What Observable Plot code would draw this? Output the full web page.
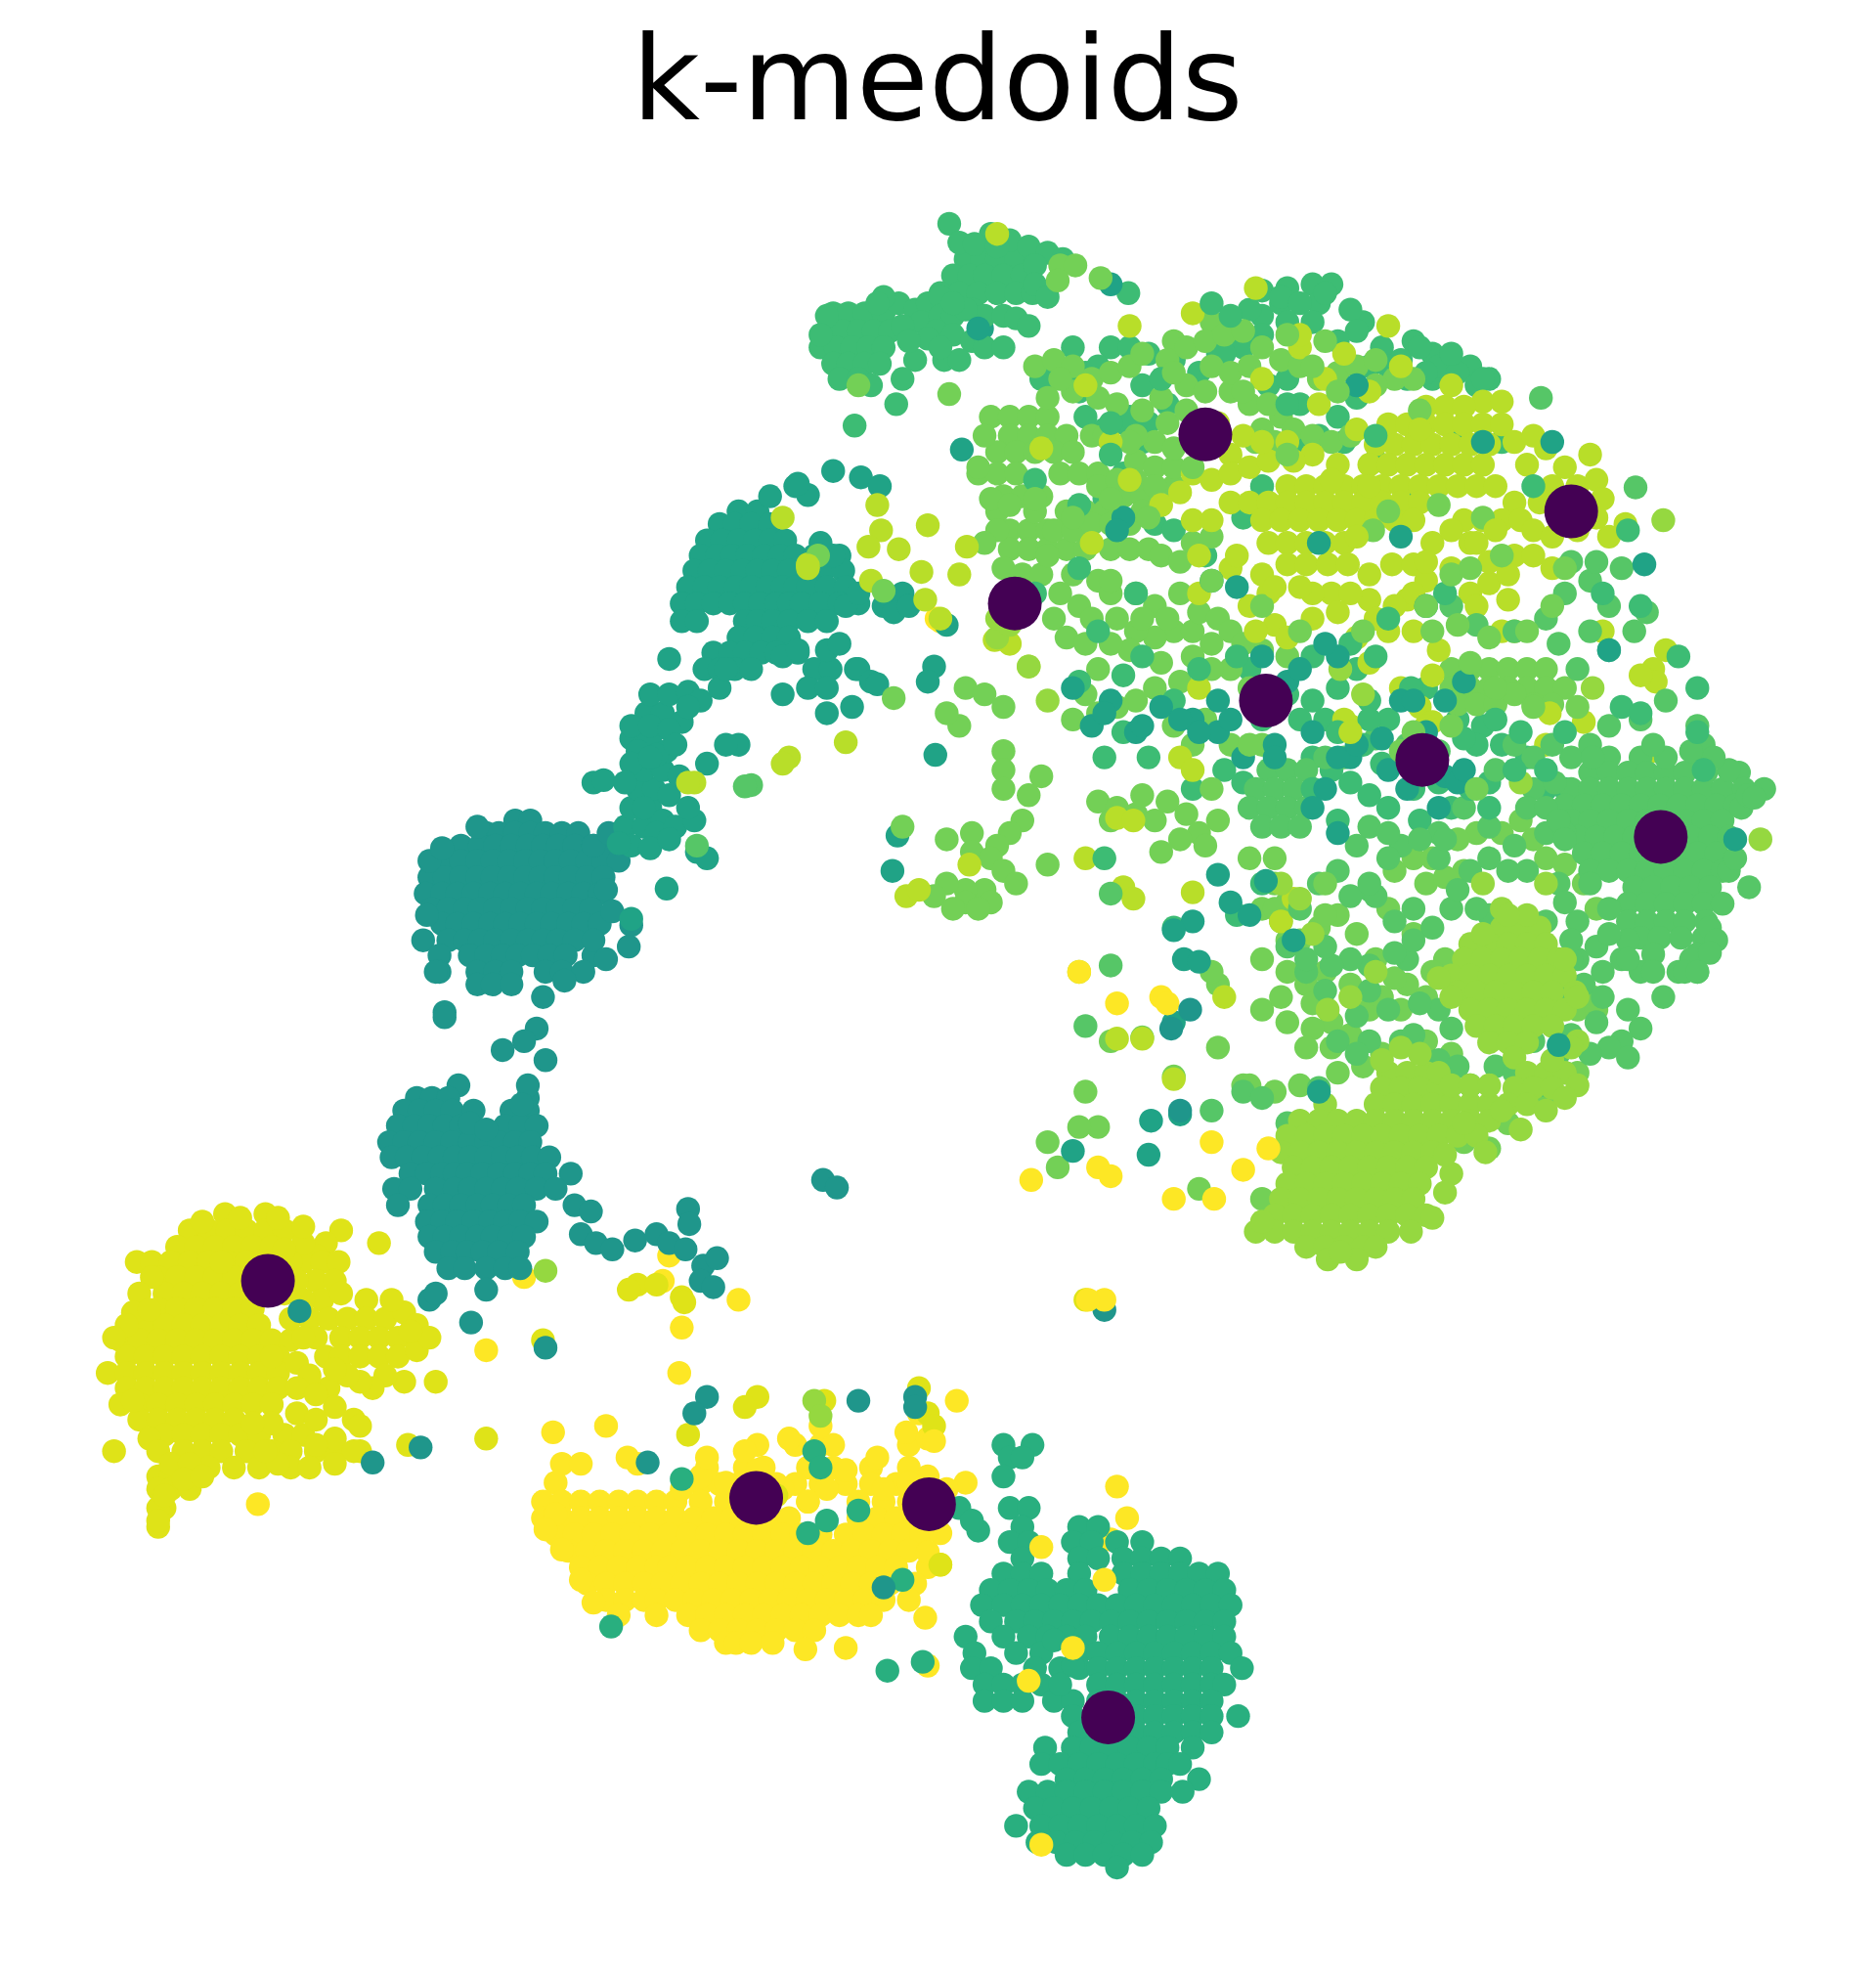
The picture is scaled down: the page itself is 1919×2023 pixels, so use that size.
<!DOCTYPE html>
<html><head><meta charset="utf-8">
<script src="https://cdn.jsdelivr.net/npm/d3@7"></script>
<script src="https://cdn.jsdelivr.net/npm/@observablehq/plot@0.6"></script>
<style>html,body{margin:0;padding:0;background:#fff;overflow:hidden}
#t{height:190px;text-align:center;font:120px/161px "DejaVu Sans";color:#000;width:1919px;padding-right:1px;box-sizing:border-box}</style>
</head><body><div id="t">k-medoids</div><div id="c"></div>
<script>
const seriesNames=["c1","c2","c3","c4","c5","c6","c7","c8","c9","c10"];
const seriesColors=["#1f968b","#20a386","#29af7f","#3dbc74","#56c667","#73d056","#95d840","#b8de29","#dfe318","#fde725"];
const medoidX=[212,599,736,878,804,955,1003,1127,1245,1316];
const medoidY=[1015,1187,1192,1361,478,344,555,602,405,663];
// rows: [y, x, x, ...]; lists: x,y,x,y,...
const c1Rows=[[650,408,420],[660,385,395,408,420,432,445,458],[670,365,380,392,405,418,430,442,455,470,482],[682,352,365,378,390,403,416,428,440,452,465,478,490],[695,340,352,365,378,390,403,416,428,440,452,465,478],[708,337,350,362,375,388,400,412,425,437,450,462,475],[720,342,355,368,380,392,405,418,430,442,455,468],[732,350,362,375,388,400,412,425,437,450,462,475],[745,335,355,368,380,392,405,418,430,442,455],[757,348,372,385,398,410,422,435,448,470],[770,348,378,392,405,432,445,462],[780,378,390,405],
[860,363],[870,330,342,355,418],[880,320,332,345,358,375,405,418],[892,315,328,340,352,365,400,412,425],[905,308,320,332,345,358,372,385,395,408,420],[917,310,322,335,348,360,372,385,398,410,422,435],[930,325,338,350,360,370,382,395,408,420,432,452],[942,312,325,345,360,372,385,398,410,425,440],[955,315,340,352,365,378,390,403,415],[968,338,350,362,375,388,400,412,425],[980,340,352,365,378,390,403,415],[992,345,358,370,382,395,410],[1005,355,368,385,400,412],[1022,385]];
const c1List=[352,802,352,806,430,790,447,777,425,815,415,825,398,832,432,840,418,860,413,875,500,733,498,750,455,955,468,960,460,978,472,985,485,990,503,983,520,978,530,985,545,958,546,970,543,990,557,1003,568,997,555,1015,565,1020,652,935,663,941,340,1030,345,1025,237,1039,373,1048,432,1068,295,1159,333,1147,513,1159,560,1107,550,1120,680,1110,725,1107,725,1115,875,1038,470,670,482,660,372,890,385,895,345,770,338,725,480,705,485,722,340,682,350,672,378,655,470,745,480,760];
const c2Rows=[[405,585,600],[415,570,582,595,610],[428,560,572,585,598,610,622],[440,555,568,580,592,605,618,630,645,665],[452,550,562,575,588,600,612,625,640,652,668],[465,545,558,570,583,595,608,620,630,640,655,670],[478,540,552,565,578,590,602,615,625,635,650,665,680],[492,540,552,590,600,612,625,640,655],[505,585,598,612,625],[517,565,578,590,603,615,632],[530,558,570,582,595,645,658,678]];
const c2List=[495,655,510,655,500,640,515,640,525,650,505,625,518,625,530,630,510,610,525,610,538,615,500,585,515,585,528,595,512,565,525,565,540,572,515,550,530,550,545,548,555,555,570,545,575,530,470,620,478,618,552,675,560,680,528,704,500,728,530,522,620,550,655,515,665,510,680,530,690,540,655,565,640,545,655,545,675,560,695,542,585,590,575,590,560,605,610,393,630,385,640,392,660,373,682,378,697,385,632,383,715,470,700,480,708,485,740,528,735,540,750,495,720,480,762,356,778,260,741,598,707,690,711,662,660,440,650,430,500,575,515,575,530,578,545,560,505,595,520,598,535,590,500,605,515,600,495,620,510,640,520,660,500,670,515,672,490,668,535,655,550,650,530,665,545,640,620,520,632,515,670,480,680,470];
const c3Rows=[[1145,795,818],[1155,800,810],[1170,795],[1195,800,815],[1210,810,855,870],[1222,800,815,850,865,885,905],[1235,810,855,870,890,905,920,935],[1247,795,810,825,855,890,905,920,935,950,965],[1260,785,800,815,830,845,860,895,910,925,940,955,970],[1272,778,795,810,825,840,855,870,885,900,915,930,945,960,975],[1285,785,805,820,835,850,865,880,895,910,925,940,955,970],[1297,765,795,815,830,845,860,880,895,910,925,940,955,970],[1310,772,805,825,855,870,885,900,915,930,945,960,975],[1322,770,785,820,840,855,870,885,900,915,930,945,960,984],[1335,780,795,810,825,870,885,900,915,930,945,960,970],[1348,780,795,810,835,850,870,885,900,915,930,945,960],[1360,850,870,885,900,915,930,945,960,981],[1373,855,870,885,900,915,930,945,960],[1385,828,850,865,880,895,910,925,945],[1398,825,840,855,870,885,900,915,925,935],[1410,845,860,875,890,905,920,950],[1420,815,830,845,860,875,890,905,920,937],[1433,820,835,850,865,880,895,910],[1447,805,825,840,855,870,885,900,915],[1460,822,837,852,867,882,897,912],[1470,845,860,875,890,905],[1480,885]];
const c3List=[484,1289,703,1324,731,1317,775,1213,760,1195,770,1205,540,1172,645,1150,650,1163,680,1197,640,1215,655,1205,715,1252,850,1320,840,1335,835,1300];
const c4Rows=[[248,660,672,685,700],[262,655,667,680,692,705],[275,650,662,675,688,700],[288,660,672,685,697],[300,665,680],[205,765,778,790,805],[218,755,768,780,795,810],[232,745,760,775,790,805,818]];
const c4List=[712,240,725,245,735,240,745,235,730,255,745,250,755,250,770,245,780,250,742,262,755,265,770,270,725,285,715,300,710,320,677,337,748,285,760,285,780,275,795,275,752,177,785,185,800,190,815,195,830,200,842,205,820,210,795,250,805,252,815,258,894,232,1020,228,1040,225,1055,225,1000,250,1015,240,1045,240,1080,255,1120,270,1135,280,1150,290,1135,300,880,275,860,295,905,305,925,320,890,335,850,275,835,300,965,280,1005,305,1020,300,1030,320,1075,315,1060,330,990,245,1165,290,1180,300,700,235,760,192,772,193,790,195,820,225,830,235,765,245,755,240,735,268,745,275,715,258,720,270,655,250,695,240,650,265,690,305,
1000,230,1015,235,1030,240,1050,232,1070,245,1075,262,1095,275,1110,285,1125,275,1140,290,1155,295,1150,280,1170,305,1130,295,1100,290,1085,290,1060,270,1040,255,1020,255,1000,265,985,275,970,280,950,295,930,285,910,280,895,275,870,290,855,310,845,300,825,300,860,330,875,340,895,330,910,335,905,350,890,375,875,395,860,415,885,420,915,415,930,420,955,440,985,410,1000,385,1030,355,1045,345,1065,350,1090,365,1115,390,1155,345,1190,350,1175,300,1115,300,990,530,1020,550,1040,555,1060,545,1075,530,1085,555,1100,570,1130,545,1155,570,1175,575,1190,590,1210,600,1225,625,1240,625,1180,620,1150,640,1125,650,1100,640,1085,630,1070,620,1055,610,1040,600,970,610,985,620,945,625,910,600,890,580,875,600,1000,570,1030,570,1050,570,1120,600];
const c4Top=[1215,385,1145,470,1205,580,1185,570,1170,590,1200,610,1240,580,1225,610,1165,625,1140,620,1095,605,1080,590,1060,580,880,335,920,300,1020,320,1090,345,960,240,975,250,880,360,855,400,820,470,855,450,820,380,870,500,900,470,1040,520,1070,510,1090,520,1100,490,1085,570,1118,545,1160,585,1180,640,905,520,855,540,890,535,930,555,950,530,980,520,875,680,930,735,980,725,1000,700,1060,650,1040,625,1120,625,1290,420,1270,470,1275,515,1300,480,1345,545,1330,520,1345,580,1350,610,1285,560,1300,565];
const c5Rows=[[600,1275,1300,1345],[612,1260,1275,1290,1305,1320,1335,1352,1378],[625,1245,1260,1275,1290,1305,1320,1335,1350,1365,1382,1398],[638,1240,1255,1270,1285,1300,1315,1330,1345,1360,1375],[650,1245,1260,1275,1290,1305,1320,1335,1350,1365],[663,1250,1265,1280,1295,1310,1325,1340,1355,1370],[676,1255,1270,1285,1300,1315,1330,1345,1360],[690,1260,1275,1290,1305,1320,1335,1350,1365],[703,1295,1310,1325,1340,1355,1386],[716,1290,1305,1320,1335,1350,1365],[730,1290,1305,1320,1335,1352],[743,1300,1315,1332,1350],[756,1310,1345],[770,1300,1330,1345],
[610,1005,1020,1035],[625,995,1010,1025,1040],[640,990,1005,1020,1035],[655,1000,1015,1030]];
const c5List=[1296,386,1221,315,1270,770,1290,800,1300,815,1285,825,1275,830,1290,838,1318,790,1340,760,1355,735,1250,760,1235,790,1215,825,1235,835,1225,860,1045,862,1085,825,1060,825,1075,835,1110,825,985,865,1000,870,960,880,1020,890,595,622,590,623,552,670,1085,705,1120,720,1150,720,1180,725,1165,690,1210,690,1235,700,1250,730,1265,750,1140,660,1110,670,1060,690,1070,710,1090,710,1045,700,1030,720,1020,750,1035,770,1050,785,1085,765,1115,760,1135,735,1105,755,1160,640,1185,610,1215,625,1235,650,1210,640,1225,660,1140,595,1115,590,1090,585,1065,600,1050,600,1200,590,1245,600,
1085,700,1100,680,1075,670,1085,655,1100,660,1125,665,1140,680,1155,705,1170,720,1105,730,1120,745,1070,760,1055,765,1050,750,1035,760,1085,785,1100,800,1075,805,1120,820,1140,800,1150,815,1125,795,1140,840,1155,845,1165,860,1150,860,1185,845,1200,850,1245,760,1255,780,1270,790,1285,760,1260,700,1275,720,1240,715,1225,730,1245,745,1265,810,1245,820,1260,835,1240,850,1195,690,1180,680,1200,670,1180,655,1145,665,1225,640,1240,660,1215,600,1230,590,1260,590,1275,575,1300,570,1320,555,1345,575,1350,590,1295,500,1275,480,1305,485,1260,460,1245,445,1225,490,1235,510,1260,500,1250,530,1200,500,1170,495,1150,480,1240,470,1265,445,1285,450,1232,620,1235,650,1240,665,1380,640,1370,690,1375,680,1360,745,1335,770,1355,755,1345,770,1290,745,1275,740,1290,760,1310,770,1385,630,1390,632,1370,610,1358,600,1340,595,1320,600,1310,590,1262,600,860,813,880,765,880,708];
const c6Rows=[[330,785,800,815,830],[345,800,815,830,845,865],[358,790,805,820,835,850],[375,775,790,805,840,855,870],[393,795,810,825,890,905],[405,790,845,860,875],[420,800,815,830],[435,800,815,830,845,860,880,895,910],[530,1150,1165,1180,1195,1210,1225],[545,1150,1165,1180,1195,1210,1225,1240],[558,1155,1170,1185,1215,1230]];
const c6List=[900,365,915,350,925,335,940,325,960,290,975,310,990,320,1000,340,1015,330,960,255,930,270,920,440,935,445,945,430,960,425,870,460,850,455,840,470,855,480,835,490,865,490,880,470,900,470,915,480,935,470,930,500,915,505,900,500,945,500,960,510,975,530,990,545,1000,515,1020,520,895,515,880,510,870,530,920,525,935,540,955,570,975,590,1000,590,960,625,965,650,990,680,1010,700,1000,720,1015,730,1030,745,1045,735,1060,725,1075,740,1020,770,1035,780,1040,795,1055,810,1070,820,1085,800,1095,790,1115,780,1130,790,1145,760,1130,700,1100,720,1105,690,1120,680,1135,680,1160,690,1170,660,1155,665,1190,660,1205,650,1215,665,1225,680,870,635,885,640,900,645,915,650,880,650,905,630,925,635,940,645,950,660,955,670,935,665,920,675,795,595,795,610,795,625,825,615,815,630,810,650,800,660,790,670,770,660,770,675,785,680,795,690,805,700,780,705,765,705,750,700,740,710,750,665,765,715,785,715,755,720,775,720,830,685,765,545,780,550,795,560,760,575,750,565,708,553,715,655,752,312,680,305,1050,725,965,830,985,860,930,853,880,825,905,822,860,865,870,893,855,893,830,905,838,925,1000,950,950,942,1020,715,965,780,960,770,1145,695,1240,685,1255,700,1265,720,1262,790,1180,910,
820,290,835,285,850,290,865,300,880,295,895,290,905,280,925,285,940,275,955,270,970,265,985,262,1000,275,1015,285,1030,290,1045,300,1060,295,1075,290,1090,285,1105,300,1120,300,1090,305,850,310,870,315,885,320,905,325,920,315,940,305,955,310,975,295,990,290,1005,320,1025,340,1040,345,1055,350,1070,345,1010,350,995,350,900,345,915,370,930,385,875,345,895,350,840,300,830,315,780,345,775,370,785,395,800,400,820,405,835,420,850,420,865,415,880,415,895,415,905,405,870,385,885,380,900,380,915,385,930,370,930,355,945,350,790,420,780,430,795,450,810,455,825,455,845,505,860,510,885,490,905,490,925,490,950,485,965,490,975,500,985,510,945,520,960,530,915,545,900,555,885,560,870,565,850,570,860,550,930,575,945,590,1000,800,1015,790,1040,815,1055,830,1035,830,1020,810,990,860,1010,865,1030,860,1060,850,1080,845,1095,835,1000,760,1020,745,1010,720,1050,770,1070,780,1110,800,1130,825,1150,835,1135,770,1120,740,1090,760,1105,775,1250,800,1265,800,1250,850,1225,870,1195,890,1160,905];
const c6Top=[840,210,852,210,838,222,872,220,1040,290,1020,265,985,310,945,370,1135,500,1165,525,1175,410,1140,400,1088,420,1150,455,1165,450,1130,480,1080,500,1190,440,1100,405,1250,560,1210,500,1180,505,1230,480,1060,310,1050,270,1020,360,1125,325,930,295,1000,480,1030,500,880,460,830,440,850,410,820,395,880,395,910,410,960,460,990,590,1010,680,1050,700,1155,495,1200,550,1215,560,1185,545,1240,450,700,468,648,440,1110,595,1150,575,1120,580,1170,625];
const c7Rows=[[735,1190,1205,1220],[748,1165,1180,1195,1210,1225],[760,1160,1175,1190,1205,1220,1235],[773,1150,1165,1180,1195,1210,1225,1240],[786,1155,1170,1185,1200,1215,1230,1248],[800,1165,1180,1195,1210,1225,1240],[813,1170,1185,1200,1215,1230],[826,1180,1195,1210],[838,1200],[850,1100,1115,1130,1210,1225,1240],[862,1095,1110,1125,1140,1200,1215,1230],[875,1050,1090,1105,1120,1135,1150,1165,1180,1195,1210],[888,1030,1045,1060,1075,1090,1105,1120,1135,1150,1165,1180],[900,1020,1035,1050,1065,1080,1095,1110,1125,1140,1155,1170],[913,1015,1030,1045,1060,1075,1090,1105,1120,1135,1177],[925,1025,1040,1055,1070,1085,1100,1115,1130],[938,1020,1035,1050,1065,1080,1095,1110,1125],[950,1015,1030,1045,1060,1075,1090,1105,1120],[963,1010,1025,1040,1055,1070,1085,1100,1115,1130],[976,995,1010,1025,1040,1055,1070,1085,1100,1118],[988,1035,1050,1065,1080,1090],[998,1052,1075]];
const c7List=[1318,412,1052,800,1070,790,1090,770,1250,825,1225,700,1190,720,1015,700,1030,712,1040,740,790,505,800,495,815,528,830,555,790,490,1062,530,1080,550,645,1110,650,1122,432,1007,1395,665,1262,545,1205,620,1175,700,1000,968,1150,930,1145,945,1135,965,1145,915,1160,890,1190,880,1095,840,1110,830,1125,835,1140,850,1150,860,1165,860,1180,860,1230,840,1245,830,1250,860,1240,870,1225,880,1205,895,1150,790,1140,775,1175,740,1240,760,1210,725,1195,725,1250,790];
const c7Top=[1062,992];
const c8Rows=[[318,1175,1190],[322,1130,1145,1160],[336,1100,1115,1130,1145,1160,1175,1190],[352,1090,1105,1120,1135,1150,1165,1180],[368,1060,1085,1100,1115,1130,1145,1160,1175,1210],[385,1020,1035,1050,1065,1080,1095,1110,1125,1140,1155,1170,1185,1230],[398,975,990,1005,1020,1035,1050,1065,1080,1095,1110,1125,1200,1220],[412,945,960,1000,1015,1030,1045,1060,1075,1090,1105,1120,1160,1175,1190,1205],[430,1005,1020,1035,1050,1065,1135,1165],[447,1020,1035,1052,1068,1103,1120]];
const c8List=[1225,355,1240,370,1265,410,1288,415,1250,385,1265,380,1260,360,1275,425,1215,420,1200,440,1150,420,1170,430,1130,460,1085,475,1090,490,1140,515,1165,470,1180,462,1195,475,960,350,975,360,945,375,960,380,975,375,990,370,935,390,920,400,1005,365,1020,350,1050,300,1030,275,1065,280,1100,258,995,228,945,248,895,258,1225,590,1228,565,1310,530,1312,540,1320,515,1255,572,1310,595,1040,490,1055,470,1010,495,990,480,995,500,1040,470,950,470,1020,505,1125,560,1135,572,1070,575,1065,570,1130,575,1085,455,1110,545,950,545,935,600,945,610,885,648,898,650,945,707,890,703,898,712,860,305,825,355,880,350,865,430,815,528,800,510,788,507,620,410,695,400,698,420,688,433,712,435,735,416,690,460,745,490,766,433,730,453,733,475,760,455,640,447,640,450,550,620,545,620,670,588,625,600,620,605,768,685,718,710,728,705,860,680,885,823,905,823,970,790,930,855,1015,730,1025,712,855,770,1300,535,790,185,1270,500,1200,500,1115,475,
985,345,1000,350,1045,320,1075,340,1040,360,1025,365,1055,380,1200,350,1215,345,1150,450,1120,470,1105,480,1170,480,1215,440,1230,450,1195,455,1180,445,1190,500,1135,535,1100,500,1070,470,1030,465,1005,470,975,450,980,440,950,440,1000,455,1060,485,1075,505,1120,500,1085,525,1230,425,1250,420,1270,395,1150,305,1110,290,1085,310,1030,265,1000,300];
const c8Top=[640,448,1130,445,1185,420,1010,465,965,335,1125,340,1075,425,1070,580,895,380,1085,385];
const c9Rows=[[962,178,210],[975,150,165,180,195,210,225],[988,140,155,170,185,200,215],[1000,108,120,135,150,165,180,195,210],[1012,125,140,155,170,185],[1025,130,145,160,175,190,205],[1037,125,140,155,170,185,200],[1050,115,130,145,160,175,190,205],[1062,95,110,125,140,155,170,185,200,215,230],[1075,100,115,130,145,160,175,190,205,220],[1088,85,100,115,130,145,160,175,190,205,220],[1100,100,115,130,145,160,175,190,205,220],[1113,95,110,125,140,155,170,185,200,215],[1125,110,125,140,155,170,185],[1137,130,145,160,175,190,205,225,240],[1150,90,145,160,175,195,215,230,250,265,285],[1163,165,185,205,230,245],[1170,125,135],[1180,125,135,150],[1195,130,125],[1210,125]];
const c9List=[270,975,258,985,250,995,240,1000,255,1000,268,1000,300,985,250,1015,265,1015,255,1030,270,1025,290,1030,245,1045,260,1045,275,1045,290,1045,305,1045,320,1040,270,1060,285,1060,300,1060,315,1060,330,1050,250,1060,258,1075,270,1075,285,1075,300,1075,315,1075,330,1070,320,1095,345,1095,260,1100,265,1115,280,1125,285,1130,340,1060,323,1145,385,1140,430,1062,505,1018,520,1018,498,1022,540,1028,542,1032,600,1107,590,1115,545,1137,653,1110,728,1100,735,1120,740,1130,860,1030,745,1240,615,1185,
240,985,230,1000,235,1015,225,1025,240,1030,230,1045,240,1060,235,1080,245,1090,235,1100,250,1105,235,1120,215,1128,200,1128,250,1125,265,1140,280,1150,215,1075,120,1012,110,1025,105,1040,118,1038,100,1050,90,1060,105,1110,118,1140,125,1150,135,1160,150,1160,145,1172,130,1185,125,1205,175,1000,190,965,160,968,220,965,240,972,225,990,310,1030,325,1055,305,1090,295,1100,285,1095,275,1090,265,1085,250,1145,265,1160,220,1160,210,1150,160,1170];
const c10Rows=[[1145,600,630,650,660,720],[1160,445,460],[1163,560,590,605,640,660,690,720],[1175,440],[1176,555,570,585,600,615,630,650,670,690,710,730],[1190,430,445,460,475,490,505,520,535,555,575,640,680,700,720],[1203,430,445,460,475,490,505,520,535,550,565,580,595,610,625,680,695,710,725],[1216,440,455,470,485,500,515,530,545,560,575,590,605,620,635,650,670,685,700,715,730],[1229,450,465,480,495,510,525,540,555,570,585,600,615,630,645,660,675,690,705,720],[1242,460,475,490,505,520,530,545,560,575,590,605,620,635,650,665,680,695,710,735],[1255,465,480,495,510,525,540,555,570,585,600,615,630,645,660,675,690,705,725],[1268,480,495,510,520,535,550,565,580,595,610,625,640,655,670,685,700,720],[1280,490,520,545,560,575,590,605,620,635,650,665,680,690],[1292,555,570,585,600,615,630,645],[1302,575,583,595,612]];
const c10List=[638,1307,670,1306,540,1180,555,1170,575,1175,590,1175,605,1175,620,1180,560,1155,590,1150,600,1165,625,1140,650,1130,670,1165,695,1155,718,1135,735,1140,765,1175,735,1170,720,1175,700,1180,650,1165,640,1190,655,1180,758,1110,745,1240,733,1282,735,1320,728,1120,540,1052,538,1088,585,1030,385,1070,204,1192,438,1135,480,1130,505,1160,497,1155,530,995,525,1015,415,1012,885,1178,893,1203,880,1220,900,1265,895,1285,742,490,745,492,750,1180,740,1200,745,1215,735,1230,440,1200,432,1212,445,1228,460,1252,470,1270];
const c10Top=[875,1252,825,1226,850,1306,815,1332,825,1462,855,770,885,795,920,790,925,795,817,935,870,925,880,932,960,905,1005,910,985,927,930,950,962,950,875,1030,862,1030,740,1142];
const c1Top=[935,880,928,815,943,800,700,1258];
const c2Top=[775,260,1075,305,1003,698,1130,480,1175,350,1045,430,1110,425,1230,350,1303,447,1275,515,1110,555,1060,520,980,465,960,460,890,410,885,420,880,225,850,545,880,555,900,580,920,560,945,570,965,580,985,600,1050,625,1070,600,1095,585,1120,555,1145,615,1155,620,1025,745,1045,865,1235,828,1375,665,965,693,945,730,975,715,990,725,930,737,938,760,950,762,930,810,935,883,912,888,910,915,850,912,1160,540,1020,540,1000,555,865,575,875,565,905,575,935,570,950,580,965,555,975,570,1010,590,1040,580,1060,600,1075,590,1100,610,1115,625,1140,640,1160,610,1130,580,1145,555,1000,520,1030,530,1050,510,1010,600,1040,640,1060,660];
function rows(name,r){return r.flatMap(([y,...xs])=>xs.map(x=>({s:name,x,y})));}
function list(name,a){const o=[];for(let i=0;i+1<a.length;i+=2)o.push({s:name,x:a[i],y:a[i+1]});return o;}
const pts=[
...rows("c10",c10Rows),...list("c10",c10List),
...rows("c9",c9Rows),...list("c9",c9List),
...rows("c3",c3Rows),...list("c3",c3List),
...rows("c1",c1Rows),...list("c1",c1List),
...rows("c2",c2Rows),...list("c2",c2List),
...rows("c4",c4Rows),...list("c4",c4List),
...rows("c6",c6Rows),...list("c6",c6List),
...rows("c8",c8Rows),...list("c8",c8List),
...rows("c5",c5Rows),...list("c5",c5List),
...rows("c7",c7Rows),...list("c7",c7List),
...list("c4",c4Top),...list("c2",c2Top),...list("c6",c6Top),...list("c8",c8Top),...list("c7",c7Top),
...list("c10",c10Top),...list("c1",c1Top)];
const medoids=medoidX.map((x,i)=>({x,y:medoidY[i]}));
const titleH=190;
const chart=Plot.plot({width:1919,height:2023-titleH,margin:0,
  x:{domain:[0,1487],range:[0,1919],axis:null},
  y:{domain:[titleH*1568/2023,1568],range:[0,2023-titleH],axis:null},
  color:{domain:seriesNames,range:seriesColors},
  marks:[
    Plot.dot(pts,{x:"x",y:"y",fill:"s",r:12.2}),
    Plot.dot(medoids,{x:"x",y:"y",fill:"#440154",r:27.5})
  ]});
document.getElementById("c").appendChild(chart);
</script></body></html>
